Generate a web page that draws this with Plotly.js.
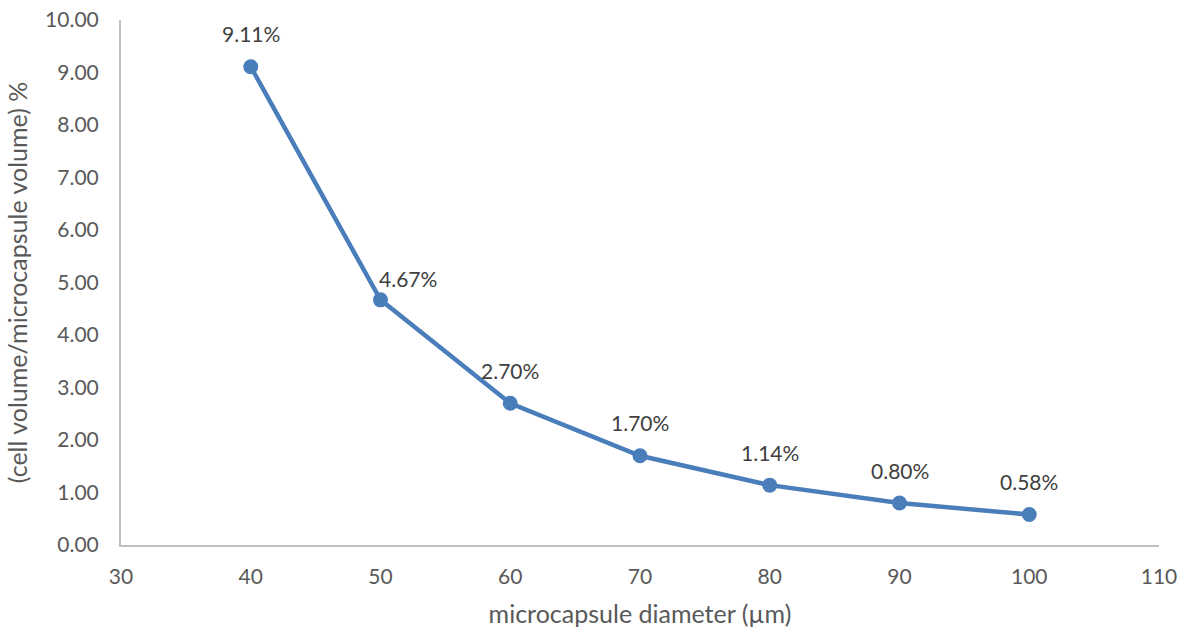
<!DOCTYPE html>
<html><head><meta charset="utf-8">
<script src="https://cdn.plot.ly/plotly-3.0.1.min.js"></script>
<style>html,body{margin:0;padding:0;background:#fff}#c{width:1184px;height:629px}</style>
</head><body><div id="c"></div>
<script>
const diameters = [40, 50, 60, 70, 80, 90, 100];
const ratioPct = [9.11, 4.67, 2.70, 1.70, 1.14, 0.80, 0.58];
const labels = ["9.11%", "4.67%", "2.70%", "1.70%", "1.14%", "0.80%", "0.58%"];
const xTitle = "microcapsule diameter (µm)";
const yTitle = "(cell volume/microcapsule volume) %";

const font = "Lato, 'Open Sans', sans-serif";
const annotations = diameters.map((d, i) => ({
  x: d, y: ratioPct[i], text: labels[i], showarrow: false,
  xref: 'x', yref: 'y',
  xshift: i === 1 ? 27 : 0, yshift: i === 1 ? 21 : 33,
  font: {family: font, size: 21, color: '#404040'}
}));

Plotly.newPlot('c', [{
  x: diameters, y: ratioPct,
  type: 'scatter', mode: 'lines+markers',
  line: {color: '#4a7ebb', width: 4.5},
  marker: {color: '#4a7ebb', size: 15},
  cliponaxis: false, hoverinfo: 'none'
}], {
  width: 1184, height: 629,
  margin: {l: 121, r: 25, t: 20, b: 84},
  paper_bgcolor: '#fff', plot_bgcolor: '#fff',
  showlegend: false,
  font: {family: font, color: '#595959', size: 21},
  annotations: annotations,
  xaxis: {
    range: [30, 110], dtick: 10, tick0: 30, showgrid: false, zeroline: false,
    showline: true, linecolor: '#bfbfbf', linewidth: 2, ticks: '',
    ticklabelstandoff: 12,
    tickfont: {size: 21, color: '#595959'},
    title: {text: xTitle, font: {size: 25, color: '#595959'}, standoff: 18}
  },
  yaxis: {
    range: [0, 10], dtick: 1, tick0: 0, tickformat: '.2f', showgrid: false, zeroline: false,
    showline: true, linecolor: '#bfbfbf', linewidth: 2, ticks: '',
    ticklabelstandoff: 16,
    tickfont: {size: 21, color: '#595959'},
    title: {text: yTitle, font: {size: 25, color: '#595959'}, standoff: 10}
  }
}, {displayModeBar: false, staticPlot: true});
</script></body></html>
